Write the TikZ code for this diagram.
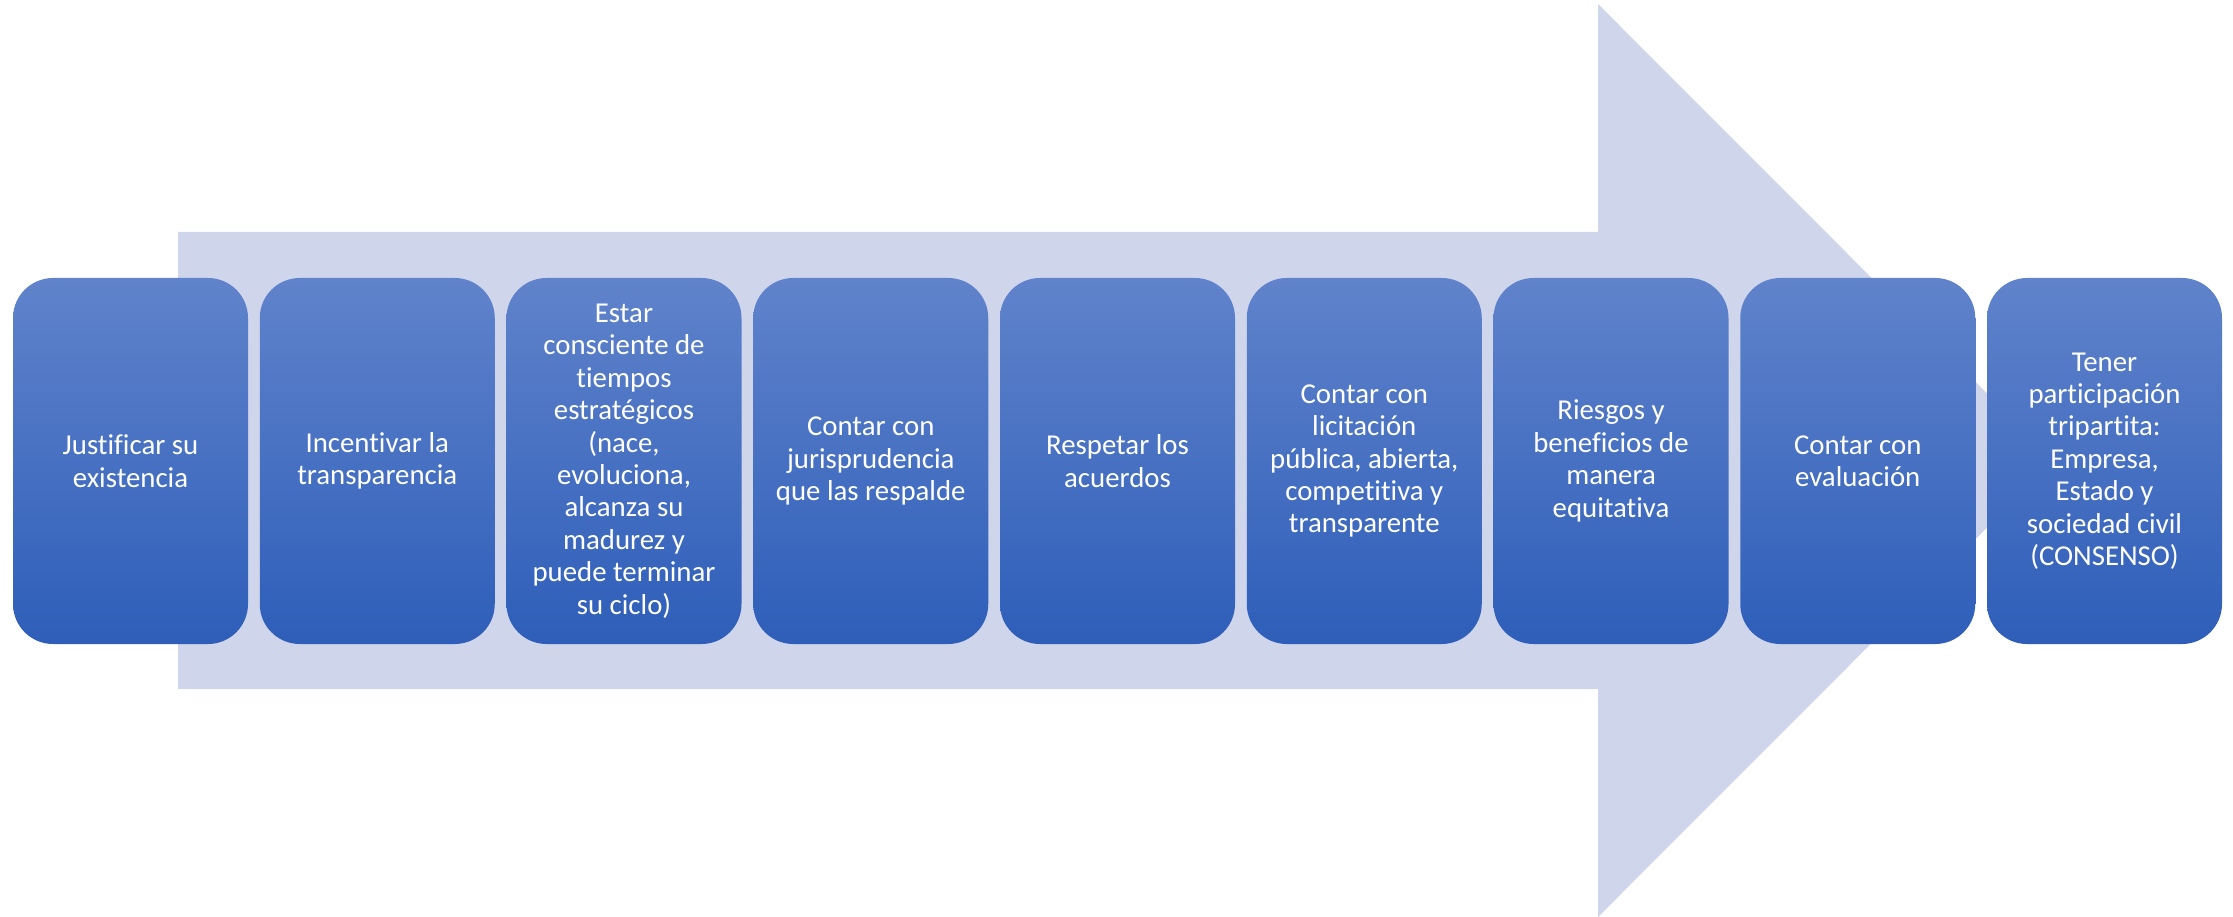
\documentclass[tikz,border=0pt]{standalone}
\usepackage{fontspec}
\setmainfont{Carlito}[Ligatures=NoCommon]
\definecolor{arrowfill}{RGB}{207,213,234}
\definecolor{boxtop}{RGB}{96,131,203}
\definecolor{boxbot}{RGB}{46,94,185}
\tikzset{
  stepbox/.style={rounded corners=40pt, top color=boxtop, bottom color=boxbot, draw=none,
    minimum width=235pt, minimum height=366pt, inner sep=0pt, text=white, align=center,
    font=\fontsize{28.8}{32.4}\selectfont},
}
\begin{document}
\begin{tikzpicture}[x=1pt,y=-1pt]
\useasboundingbox (0,0) rectangle (2233,917);
\fill[arrowfill] (178,232) -- (1598,232) -- (1598,4) -- (2054,460.5) -- (1598,917) -- (1598,689) -- (178,689) -- cycle;
\node[stepbox] (b1) at (130.5,461) {Justificar su\\existencia};
\node[stepbox] (b2) at (377.25,461) {Incentivar la\\transparencia};
\node[stepbox] (b3) at (624,461) {Estar\\consciente de\\tiempos\\estratégicos\\(nace,\\evoluciona,\\alcanza su\\madurez y\\puede terminar\\su ciclo)};
\node[stepbox] (b4) at (870.75,461) {Contar con\\jurisprudencia\\que las respalde};
\node[stepbox] (b5) at (1117.5,461) {Respetar los\\acuerdos};
\node[stepbox] (b6) at (1364.25,461) {Contar con\\licitación\\pública, abierta,\\competitiva y\\transparente};
\node[stepbox] (b7) at (1611,461) {Riesgos y\\beneficios de\\manera\\equitativa};
\node[stepbox] (b8) at (1857.75,461) {Contar con\\evaluación};
\node[stepbox] (b9) at (2104.5,461) {Tener\\participación\\tripartita:\\Empresa,\\Estado y\\sociedad civil\\(CONSENSO)};
\end{tikzpicture}
\end{document}
